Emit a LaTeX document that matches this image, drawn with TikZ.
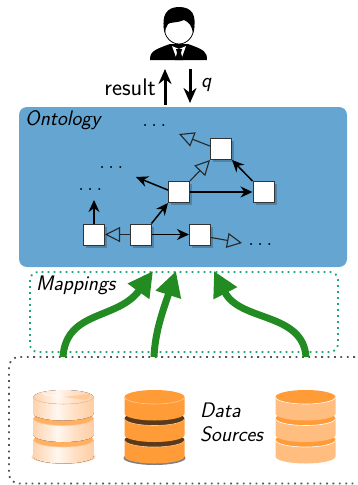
\documentclass[tikz,border=0pt]{standalone}
\usepackage{amsmath, amssymb}
\usetikzlibrary{arrows.meta,shadows}

\definecolor{ontoblue}{HTML}{64A6D1}
\definecolor{mapgreen}{HTML}{1FA86E}
\definecolor{arrowgreen}{HTML}{228B22}
\definecolor{srcgray}{HTML}{555555}
\definecolor{dborange}{HTML}{FF9C38}
\definecolor{dblight}{HTML}{FFBD80}
\definecolor{dbdark}{HTML}{5A3A18}
\definecolor{dbpeach}{HTML}{FFC89A}
\pgfdeclarehorizontalshading{dbshade}{100bp}{color(0bp)=(dbpeach); color(25bp)=(dbpeach!80); color(45bp)=(dbpeach!15); color(60bp)=(dbpeach!60); color(80bp)=(dbpeach); color(92bp)=(dblight); color(100bp)=(dbpeach)}

\tikzset{
  concept/.style={draw=black!80,line width=1pt,fill=white,minimum size=21pt,inner sep=0pt,
    drop shadow={shadow xshift=2.5pt,shadow yshift=-2.5pt,opacity=.2,fill=black}},
  role/.style={-{Stealth[length=12pt,width=11pt]},line width=1.5pt,black},
  subrole/.style={-{Triangle[open,length=15pt,width=15pt]},line width=1.1pt,black!85},
  flow/.style={-{Triangle[length=25pt,width=25pt]},line width=7pt,arrowgreen},
  query/.style={-{Stealth[length=15pt,width=13pt]},line width=3pt,black},
  label/.style={font=\sffamily\itshape\fontsize{21}{24}\selectfont,inner sep=0pt},
  more/.style={font=\fontsize{20}{20}\selectfont,inner sep=0pt}
}

\newcommand{\dblayer}[5]{% x, y, side fill, top fill, rim
  \fill [#3] (#1-30,#2) -- (#1-30,#2+16.5) arc [start angle=180,end angle=360,x radius=30pt,y radius=7pt] -- (#1+30,#2) -- cycle;
  \fill [#4] (#1,#2) ellipse [x radius=30pt,y radius=7pt];
  \draw [#5,line width=0.6pt] (#1-30,#2) arc [start angle=180,end angle=360,x radius=30pt,y radius=7pt];
}

\begin{document}
\begin{tikzpicture}[x=1pt,y=-1pt]
  \useasboundingbox (0,0) rectangle (357,485);

  % the user
  \fill [black] (150,60) .. controls (150,52) and (153,50) .. (170,44) -- (188,44) .. controls (205,50) and (207,52) .. (207,60) -- cycle;
  \fill [white] (172,46) -- (179,49) -- (186,46) -- (181,60) -- (177,60) -- cycle;
  \fill [black] (176,49) -- (182,49) -- (181,53) -- (183,60) -- (175,60) -- (177,53) -- cycle;
  \fill [white] (164,24) rectangle (194,32);
  \draw [black,fill=white,line width=0.8pt] (164,26) .. controls (164,38) and (172,44) .. (179,44) .. controls (186,44) and (194,38) .. (194,26);
  \fill [black] (165,33) .. controls (160,14) and (168,7) .. (179,7) .. controls (191,7) and (198,14) .. (193,33) .. controls (192,26) and (189,22) .. (184,20) .. controls (178,23) and (170,22) .. (168,24) .. controls (166,27) and (165,30) .. (165,33) -- cycle;
  \coordinate (userup) at (165,69);
  \coordinate (userdown) at (190,69);
  \coordinate (ontoup) at (165,105);
  \coordinate (ontodown) at (190,103);
  \draw [query] (ontoup) -- (userup);
  \draw [query] (userdown) -- (ontodown);
  \node (result) [font=\sffamily\fontsize{24}{26}\selectfont,inner sep=0pt,anchor=east] at (156,87) {result};
  \node (q) [label,anchor=west] at (201,85) {q};

  % ontology
  \fill [ontoblue,rounded corners=8pt] (19,107) rectangle (347,267);
  \node (ontology) [label,anchor=west] at (25,120) {Ontology};
  \node (a) [concept] at (94,234.5) {};
  \node (b) [concept] at (140.5,234.5) {};
  \node (c) [concept] at (200,234.5) {};
  \node (d) [concept] at (179,192) {};
  \node (e) [concept] at (263.5,192) {};
  \node (f) [concept] at (221,149) {};
  \node (dotstop) [more] at (156,125) {$\dots$};
  \node (dotsmid) [more] at (113,167) {$\dots$};
  \node (dotsleft) [more] at (92,189) {$\dots$};
  \node (dotsright) [more] at (262,244) {$\dots$};
  \coordinate (leftend) at (94,200);
  \coordinate (midend) at (136,177);
  \coordinate (topend) at (179,134);
  \coordinate (rightend) at (242,243);
  \draw [role] (a.north) -- (leftend);
  \draw [subrole] (b.west) -- (a.east);
  \draw [role] (b.east) -- (c.west);
  \draw [role] (b.north east) -- (d.south west);
  \draw [role] (d.east) -- (e.west);
  \draw [role] (d.170) -- (midend);
  \draw [subrole] (d.north east) -- (f.south west);
  \draw [role] (e.north west) -- (f.south east);
  \draw [subrole] (f.165) -- (topend);
  \draw [subrole] (c.east) ++(0,3) coordinate (cout) (cout) -- (rightend);

  % mappings and sources
  \draw [mapgreen,line width=1.8pt,dash pattern=on 1.8pt off 4.2pt,rounded corners=8pt] (30,272) rectangle (338,352);
  \node (mappings) [label,anchor=west] at (36,285) {Mappings};
  \draw [srcgray,line width=1.8pt,dash pattern=on 1.8pt off 4.6pt,rounded corners=10pt] (355,357) -- (9,357) -- (9,483.5) -- (355,483.5);
  \node (data) [label,anchor=west] at (200,410) {Data};
  \node (sources) [label,anchor=west] at (200,434) {Sources};

  % left database
  \fill [dbpeach!70] (63.5,457) ellipse [x radius=32pt,y radius=7pt];
  \dblayer{63.5}{440}{shading=dbshade}{dborange!80}{dbpeach}
  \dblayer{63.5}{418.5}{shading=dbshade}{dborange!80}{dbpeach}
  \dblayer{63.5}{397}{shading=dbshade}{shading=dbshade}{dbpeach}
  \fill [white,opacity=.45] (63.5,397) -- (40,392) arc [start angle=190,end angle=250,x radius=30pt,y radius=7pt] -- cycle;
  \fill [dblight,opacity=.5] (63.5,397) -- (90,394) arc [start angle=10,end angle=-40,x radius=28pt,y radius=7pt] -- cycle;

  % middle database
  \fill [black!50] (154.5,458) ellipse [x radius=31pt,y radius=7pt];
  \dblayer{154.5}{440}{dborange}{dbdark}{dbpeach}
  \dblayer{154.5}{418.5}{dborange}{dbdark}{dbpeach}
  \dblayer{154.5}{397}{dborange}{dborange}{dbpeach}

  % right database
  \dblayer{305.5}{440}{dblight}{dborange}{white}
  \dblayer{305.5}{418.5}{dblight}{dborange}{white}
  \dblayer{305.5}{397}{dblight}{dborange}{white}

  % arrows from the sources
  \coordinate (srcleft) at (63,357);
  \coordinate (srcmid) at (154,357);
  \coordinate (srcright) at (306,357);
  \coordinate (mapleft) at (153,271);
  \coordinate (mapmid) at (176,271);
  \coordinate (mapright) at (214,271);
  \draw [flow] (srcleft) .. controls (66,310) and (118,320) .. (mapleft);
  \draw [flow] (srcmid) .. controls (155,330) and (165,305) .. (mapmid);
  \draw [flow] (srcright) .. controls (303,312) and (240,322) .. (mapright);
\end{tikzpicture}
\end{document}
